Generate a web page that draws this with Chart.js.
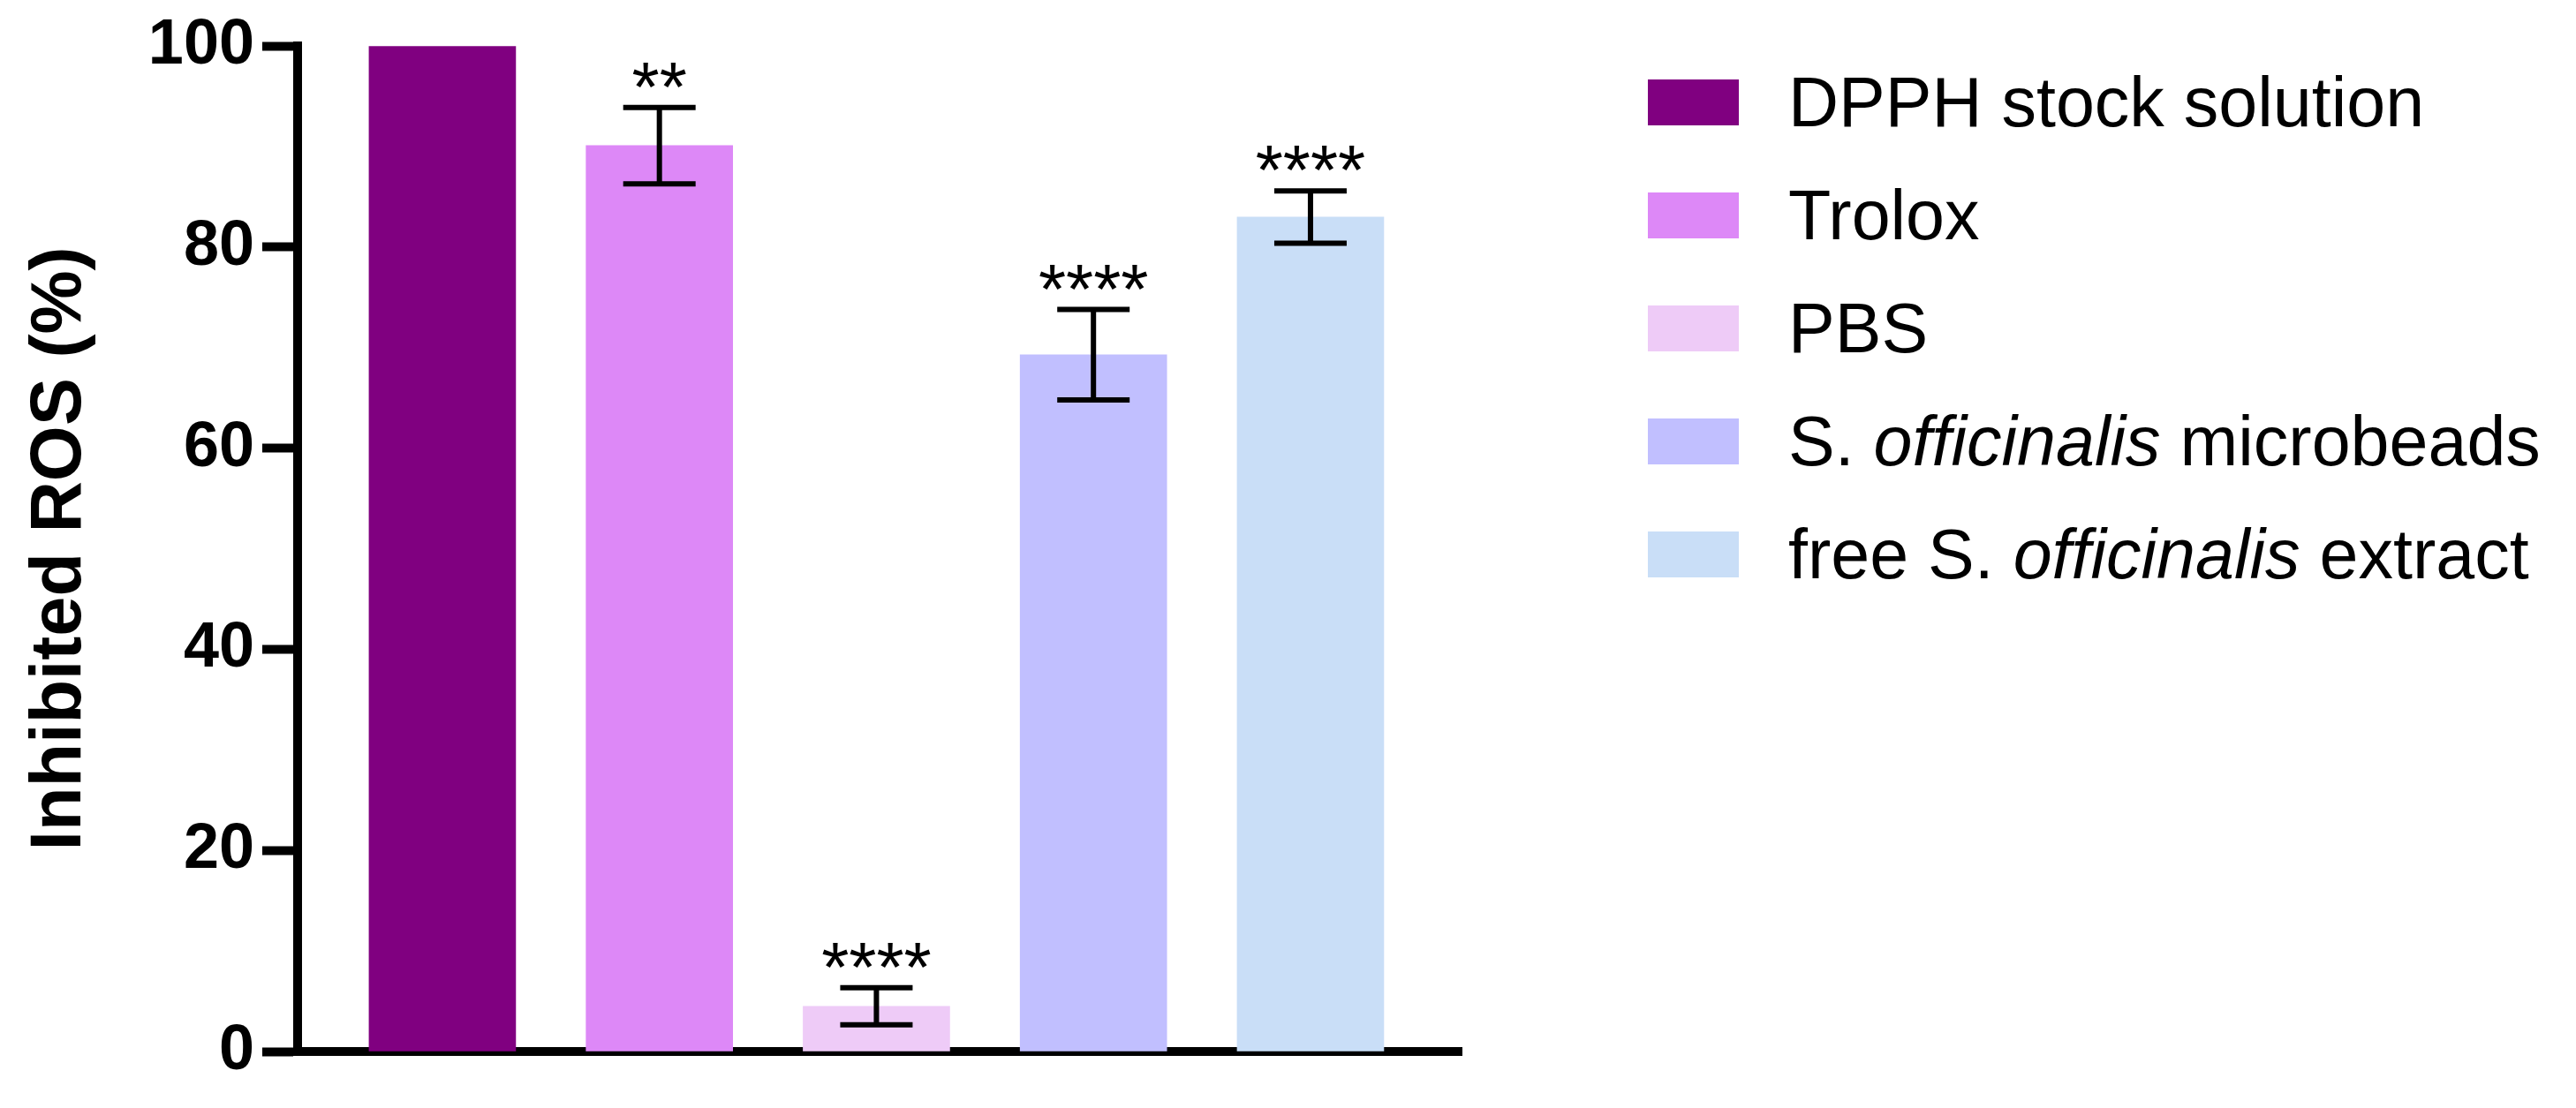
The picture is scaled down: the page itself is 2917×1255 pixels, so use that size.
<!DOCTYPE html>
<html>
<head>
<meta charset="utf-8">
<script src="https://cdn.jsdelivr.net/npm/chart.js@4.4.1/dist/chart.umd.min.js"></script>
<style>
  html, body { margin: 0; padding: 0; background: #fff; }
  #wrap { position: absolute; left: 0; top: 0; width: 2917px; height: 1255px; }
  .legend { position: absolute; left: 1866px; top: 90px; font-family: "Liberation Sans", Arial, sans-serif; color: #000; }
  .legend .item { display: flex; align-items: center; height: 52px; margin-bottom: 76px; }
  .legend .swatch { width: 103px; height: 52px; flex: none; }
  .legend .txt { margin-left: 56px; font-size: 79px; line-height: 52px; white-space: nowrap; }
</style>
</head>
<body>
<div id="wrap"><canvas id="chart"></canvas></div>
<div id="legend" class="legend"></div>
<script>
// groups
const groups = ["DPPH stock solution", "Trolox", "PBS", "S. officinalis microbeads", "free S. officinalis extract"];
const means = [100, 90.1, 4.5, 69.3, 83.0];
const sds = [0, 3.8, 1.85, 4.5, 2.6];
const stars = ["", "**", "****", "****", "****"];
const colors = ["#800080", "#DD88F7", "#EECBF7", "#C1BFFF", "#C9DEF7"];
const yTicks = [0, 20, 40, 60, 80, 100];

const FONT = "'Liberation Sans', Arial, sans-serif";

// error bars + significance stars, drawn from the scales
const errorBarsPlugin = {
  id: "errorBars",
  afterDatasetsDraw(chart) {
    const { ctx, scales } = chart;
    const x = scales.x, y = scales.y;
    ctx.save();
    ctx.strokeStyle = "#000";
    ctx.fillStyle = "#000";
    ctx.lineWidth = 6;
    ctx.lineCap = "butt";
    means.forEach((m, i) => {
      const cx = x.getPixelForValue(i);
      if (sds[i] > 0) {
        const yt = y.getPixelForValue(m + sds[i]);
        const yb = y.getPixelForValue(m - sds[i]);
        const half = 41;
        ctx.beginPath();
        ctx.moveTo(cx, yt); ctx.lineTo(cx, yb);
        ctx.moveTo(cx - half, yt); ctx.lineTo(cx + half, yt);
        ctx.moveTo(cx - half, yb); ctx.lineTo(cx + half, yb);
        ctx.stroke();
      }
      if (stars[i]) {
        const top = y.getPixelForValue(m + sds[i]);
        ctx.font = `80px ${FONT}`;
        ctx.textAlign = "center";
        ctx.textBaseline = "alphabetic";
        ctx.fillText(stars[i], cx, top + 4);
      }
    });
    ctx.restore();
  },
};

new Chart(document.getElementById("chart"), {
  type: "bar",
  data: {
    datasets: [{
      data: means.map((v, i) => ({ x: i, y: v })),
      backgroundColor: colors,
      borderWidth: 0,
      barThickness: 166,
    }],
  },
  options: {
    responsive: true,
    maintainAspectRatio: false,
    animation: false,
    events: [],
    layout: { padding: { left: 0, top: 52, right: 1262, bottom: 0 } },
    plugins: { legend: { display: false }, tooltip: { enabled: false } },
    scales: {
      x: {
        type: "linear",
        offset: false,
        min: -0.667,
        max: 4.696,
        ticks: { display: false },
        grid: { display: false, offset: false },
        border: { display: true, width: 10, color: "#000" },
        afterFit: (s) => { s.height = 64; },
      },
      y: {
        min: 0,
        max: 100,
        afterBuildTicks: (s) => { s.ticks = yTicks.map((v) => ({ value: v })); },
        ticks: { color: "#000", padding: 9, font: { family: FONT, size: 72, weight: "bold" } },
        grid: { display: true, drawOnChartArea: false, drawTicks: true, tickLength: 40, tickWidth: 10, color: "#000" },
        border: { display: true, width: 10, color: "#000" },
        title: {
          display: true,
          text: "Inhibited ROS (%)",
          color: "#000",
          font: { family: FONT, size: 81, weight: "bold", lineHeight: 1 },
          padding: { top: 28, bottom: 0 },
        },
        afterFit: (s) => { s.width = 337; },
      },
    },
  },
  plugins: [errorBarsPlugin],
});

// legend with the species name in italics
const legend = document.getElementById("legend");
groups.forEach((g, i) => {
  const item = document.createElement("div");
  item.className = "item";
  const label = g.replace("officinalis", "<i>officinalis</i>");
  item.innerHTML = `<span class="swatch" style="background:${colors[i]}"></span><span class="txt">${label}</span>`;
  legend.append(item);
});
</script>
</body>
</html>
